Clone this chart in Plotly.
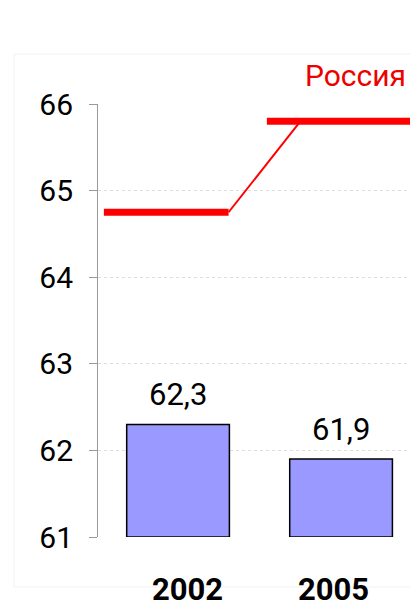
import plotly.graph_objects as go

years = ["2002", "2005"]
bar_values = [62.3, 61.9]
bar_labels = ["62,3", "61,9"]
russia_values = [64.75, 65.8]
series_name = "Россия"
y_ticks = [61, 62, 63, 64, 65, 66]

BASE = 61
xpos = list(range(len(years)))

fig = go.Figure()

fig.add_trace(go.Bar(
    x=xpos, y=[v - BASE for v in bar_values], base=BASE,
    width=0.63, marker=dict(color="#9999ff", line=dict(color="#000000", width=1.5)),
    hoverinfo="skip", showlegend=False,
))

# Russia: thick horizontal segments per year plus thin connectors
seg_left, seg_right = 0.455, 0.31
for i, v in enumerate(russia_values):
    fig.add_trace(go.Scatter(
        x=[xpos[i] - seg_left, xpos[i] + (seg_right if i < len(years) - 1 else 1.0)],
        y=[v, v], mode="lines", line=dict(color="#ff0000", width=7),
        showlegend=False, hoverinfo="skip",
    ))
for i in range(len(years) - 1):
    fig.add_trace(go.Scatter(
        x=[xpos[i] + seg_right, xpos[i + 1] - 0.25],
        y=[russia_values[i], russia_values[i + 1]], mode="lines",
        line=dict(color="#ff0000", width=2), showlegend=False, hoverinfo="skip",
    ))

for i, (v, lab) in enumerate(zip(bar_values, bar_labels)):
    fig.add_annotation(x=xpos[i], y=v, text=lab, showarrow=False,
                       yanchor="bottom", yshift=9,
                       font=dict(size=31, color="#000000", family="Roboto"))

year_shift = [9, -8]
for i, y in enumerate(years):
    fig.add_annotation(x=xpos[i], y=BASE, text="<b>%s</b>" % y, showarrow=False,
                       yanchor="middle", yshift=-52, xshift=year_shift[i],
                       font=dict(size=31, color="#000000", family="Roboto"))

fig.add_annotation(x=1.0, xref="paper", xanchor="right", xshift=-18,
                   y=1.0, yref="paper", yanchor="bottom", yshift=9,
                   text=series_name, showarrow=False,
                   font=dict(size=30, color="#ee0000", family="Roboto"))

fig.add_shape(type="rect", xref="paper", yref="paper",
              x0=-0.256, x1=1.02, y0=-0.1155, y1=1.1155,
              line=dict(color="#f2f2f2", width=1), layer="below")

fig.update_layout(
    width=418, height=600,
    margin=dict(l=90, r=0, t=96, b=71),
    paper_bgcolor="#ffffff", plot_bgcolor="#ffffff",
    font=dict(family="Roboto", color="#000000"),
    xaxis=dict(range=[-0.491, 1.521], showticklabels=False, showgrid=False,
               zeroline=False, showline=False, fixedrange=True),
    yaxis=dict(range=[61, 66], tickvals=y_ticks, ticktext=[str(t) for t in y_ticks],
               ticks="outside", ticklen=8, tickcolor="#999999", tickwidth=1,
               showline=True, linecolor="#999999", linewidth=1,
               showgrid=True, gridcolor="#dddddd", griddash="dot", gridwidth=1,
               zeroline=False, tickfont=dict(size=30, color="#000000", family="Roboto"),
               ticklabelstandoff=10),
)

fig.write_html("out.html")
